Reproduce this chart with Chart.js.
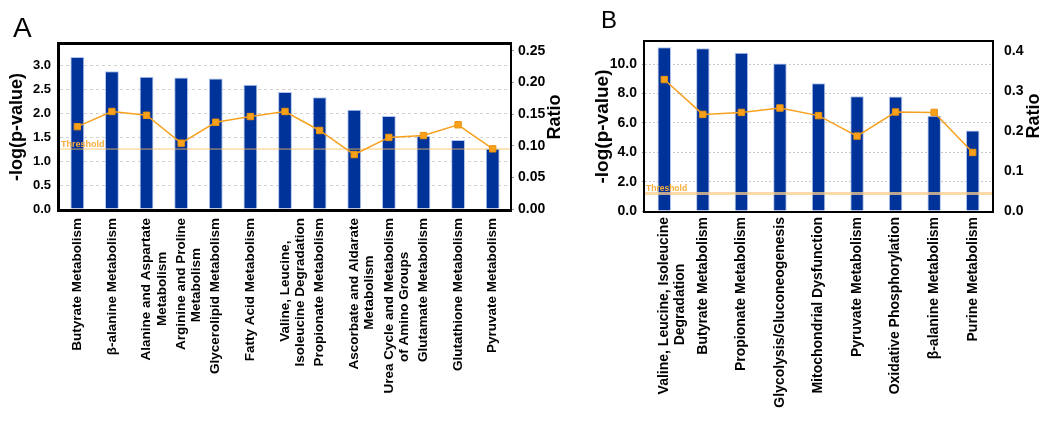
<!DOCTYPE html>
<html>
<head>
<meta charset="utf-8">
<script src="https://cdn.jsdelivr.net/npm/chart.js@4.4.1/dist/chart.umd.min.js"></script>
<style>
  html, body { margin: 0; padding: 0; background: #fff; }
  body { width: 1050px; height: 423px; position: relative; overflow: hidden; }
  canvas { position: absolute; top: 0; }
  #chartA { left: 0; }
  #chartB { left: 580px; }
</style>
</head>
<body>
<canvas id="chartA" width="575" height="423"></canvas>
<canvas id="chartB" width="470" height="423"></canvas>
<script>
// ---- panel A data ----
const pathwaysA = [
  "Butyrate Metabolism",
  "β-alanine Metabolism",
  ["Alanine and Aspartate", "Metabolism"],
  ["Arginine and Proline", "Metabolism"],
  "Glycerolipid Metabolism",
  "Fatty Acid Metabolism",
  ["Valine, Leucine,", "Isoleucine Degradation"],
  "Propionate Metabolism",
  ["Ascorbate and Aldarate", "Metabolism"],
  ["Urea Cycle and Metabolism", "of Amino Groups"],
  "Glutamate Metabolism",
  "Glutathione Metabolism",
  "Pyruvate Metabolism"
];
const logPA = [3.17, 2.87, 2.76, 2.74, 2.72, 2.59, 2.44, 2.33, 2.07, 1.94, 1.52, 1.44, 1.26];
const ratioA = [0.130, 0.154, 0.148, 0.104, 0.137, 0.146, 0.154, 0.124, 0.086, 0.113, 0.116, 0.133, 0.095];
const thresholdA = 1.25;

// ---- panel B data ----
const pathwaysB = [
  ["Valine, Leucine, Isoleucine", "Degradation"],
  "Butyrate Metabolism",
  "Propionate Metabolism",
  "Glycolysis/Gluconeogenesis",
  "Mitochondrial Dysfunction",
  "Pyruvate Metabolism",
  "Oxidative Phosphorylation",
  "β-alanine Metabolism",
  "Purine Metabolism"
];
const logPB = [11.17, 11.1, 10.78, 10.05, 8.7, 7.82, 7.8, 6.49, 5.49];
const ratioB = [0.328, 0.241, 0.246, 0.257, 0.238, 0.187, 0.247, 0.246, 0.146];
const thresholdB = 1.2;

const FAMILY = "'Liberation Sans', Arial, sans-serif";
const BAR_BLUE = "#003399";
const ORANGE = "#f7a11e";

// pad the shorter line of a 2-line label so it sits centred under the longer one
const measureCtx = document.createElement("canvas").getContext("2d");
function centerLines(label, size) {
  if (!Array.isArray(label)) return label;
  measureCtx.font = "bold " + size + "px " + FAMILY;
  const widths = label.map(s => measureCtx.measureText(s).width);
  const maxW = Math.max(...widths);
  const spaceW = measureCtx.measureText(" ").width;
  return label.map((s, i) => s + " ".repeat(Math.round((maxW - widths[i]) / 2 / spaceW)));
}

// black frame around the plot + threshold line + extra texts
const decorPlugin = {
  id: "decor",
  beforeDatasetDraw(chart, args, opts) {
    if (args.index !== 1) return; // draw threshold just before the ratio line
    const { ctx, chartArea: a } = chart;
    const y = chart.scales.y.getPixelForValue(opts.threshold);
    ctx.save();
    ctx.strokeStyle = opts.thrColor;
    ctx.lineWidth = opts.thrWidth;
    ctx.beginPath();
    ctx.moveTo(a.left, y);
    ctx.lineTo(a.right, y);
    ctx.stroke();
    ctx.fillStyle = "#f9ae3a";
    ctx.font = "bold " + opts.thrFont + "px " + FAMILY;
    ctx.textAlign = "left";
    ctx.textBaseline = "alphabetic";
    ctx.fillText("Threshold", a.left + 1, y - 2);
    ctx.restore();
  },
  afterDraw(chart, args, opts) {
    const { ctx, chartArea: a } = chart;
    const b = opts.border;
    ctx.save();
    ctx.fillStyle = "#000";
    ctx.fillRect(a.left - b.left, a.top - b.top, a.width + b.left + b.right, b.top);
    ctx.fillRect(a.left - b.left, a.bottom, a.width + b.left + b.right, b.bottom);
    ctx.fillRect(a.left - b.left, a.top - b.top, b.left, a.height + b.top + b.bottom);
    ctx.fillRect(a.right, a.top - b.top, b.right, a.height + b.top + b.bottom);

    // panel letter
    ctx.font = opts.letterFont;
    ctx.textAlign = "left";
    ctx.textBaseline = "alphabetic";
    ctx.fillText(opts.letter, opts.letterX, opts.letterY);

    // right axis title, reading bottom to top
    ctx.translate(opts.ratioX, opts.ratioY);
    ctx.rotate(-Math.PI / 2);
    ctx.font = "bold 18px " + FAMILY;
    ctx.textAlign = "center";
    ctx.textBaseline = "middle";
    ctx.fillText("Ratio", 0, 0);
    ctx.restore();
  }
};

function makeChart(id, p) {
  return new Chart(document.getElementById(id), {
    data: {
      labels: p.labels,
      datasets: [
        {
          type: "bar",
          order: 1,
          data: p.logP,
          yAxisID: "y",
          backgroundColor: BAR_BLUE,
          borderColor: "#b3c4ee",
          borderWidth: 1,
          borderSkipped: "bottom",
          categoryPercentage: 1,
          barPercentage: p.barPct
        },
        {
          type: "line",
          order: 0,
          data: p.ratio,
          yAxisID: "y1",
          borderColor: ORANGE,
          borderWidth: 1.5,
          pointStyle: "rect",
          pointRadius: 4.5,
          pointBackgroundColor: "#f9a11b",
          pointBorderColor: "#e8920f",
          pointBorderWidth: 1,
          tension: 0
        }
      ]
    },
    options: {
      responsive: false,
      animation: false,
      devicePixelRatio: 1,
      layout: { padding: { top: p.top, bottom: 0, left: 0, right: 0 } },
      plugins: {
        legend: { display: false },
        tooltip: { enabled: false },
        decor: p.decor
      },
      scales: {
        x: {
          grid: { display: false, drawTicks: false },
          border: { display: false },
          ticks: {
            autoSkip: false,
            minRotation: 90,
            maxRotation: 90,
            padding: p.xPad,
            color: "#000",
            font: { family: FAMILY, size: p.xFont, weight: "bold", lineHeight: 1.15 },
            callback(v) { return centerLines(this.getLabelForValue(v), p.xFont); }
          },
          afterFit(s) { s.height = p.xHeight; }
        },
        y: {
          position: "left",
          min: 0,
          max: p.yMax,
          grid: {
            color: p.gridColor,
            drawTicks: p.yTickLen > 0,
            tickLength: p.yTickLen,
            tickColor: "#999"
          },
          border: { display: false, dash: p.gridDash },
          ticks: {
            stepSize: p.yStep,
            includeBounds: false,
            padding: p.yPad,
            color: "#000",
            font: { family: FAMILY, size: p.yFont, weight: "bold" },
            callback: p.yLabel
          },
          title: {
            display: true,
            text: "-log(p-value)",
            color: "#000",
            font: { family: FAMILY, size: p.titleSize, weight: "bold" },
            padding: { top: p.titlePad, bottom: 0 }
          },
          afterFit(s) { s.width = p.leftW; }
        },
        y1: {
          position: "right",
          min: 0,
          max: p.y1Max,
          grid: {
            drawOnChartArea: false,
            drawTicks: p.y1TickLen > 0,
            tickLength: p.y1TickLen,
            tickColor: "#999"
          },
          border: { display: false },
          ticks: {
            stepSize: p.y1Step,
            includeBounds: false,
            padding: p.y1Pad,
            color: "#000",
            font: { family: FAMILY, size: 14, weight: "bold" },
            callback: p.y1Label
          },
          afterFit(s) { s.width = p.rightW; }
        }
      }
    },
    plugins: [decorPlugin]
  });
}

makeChart("chartA", {
  labels: pathwaysA,
  logP: logPA,
  ratio: ratioA,
  barPct: 0.4,
  top: 45,
  xHeight: 214,
  xPad: 9,
  xFont: 13.5,
  yMax: 3.42,
  yStep: 0.5,
  yPad: 9,
  yFont: 13,
  yTickLen: 0,
  yLabel: v => v.toFixed(1),
  gridColor: "#d2d2d2",
  gridDash: [3, 3],
  titleSize: 18,
  titlePad: 6,
  leftW: 60,
  y1Max: 0.259,
  y1Step: 0.025,
  y1Pad: 4,
  y1TickLen: 4,
  y1Label: v => (Math.round(v * 1000) % 50 === 0 ? v.toFixed(2) : ""),
  rightW: 65,
  decor: {
    threshold: thresholdA,
    thrColor: "rgba(255, 190, 90, 0.8)",
    thrWidth: 1,
    thrFont: 9,
    border: { top: 3, bottom: 3, left: 3, right: 2 },
    letter: "A",
    letterFont: "28px " + FAMILY,
    letterX: 13,
    letterY: 37,
    ratioX: 555,
    ratioY: 117
  }
});

makeChart("chartB", {
  labels: pathwaysB,
  logP: logPB,
  ratio: ratioB,
  barPct: 0.35,
  top: 42,
  xHeight: 212,
  xPad: 6,
  xFont: 14,
  yMax: 11.52,
  yStep: 1,
  yPad: 5,
  yFont: 14,
  yTickLen: 3,
  yLabel: v => (Math.round(v) % 2 === 0 ? v.toFixed(1) : ""),
  gridColor: "#c8c8c8",
  gridDash: [2, 2],
  titleSize: 19,
  titlePad: 11.6,
  leftW: 65,
  y1Max: 0.4217,
  y1Step: 0.1,
  y1Pad: 12,
  y1TickLen: 0,
  y1Label: v => v.toFixed(1),
  rightW: 58,
  decor: {
    threshold: thresholdB,
    thrColor: "rgba(250, 205, 140, 0.75)",
    thrWidth: 3,
    thrFont: 8.5,
    border: { top: 2, bottom: 2, left: 2, right: 2 },
    letter: "B",
    letterFont: "24px " + FAMILY,
    letterX: 21,
    letterY: 28,
    ratioX: 454,
    ratioY: 116
  }
});
</script>
</body>
</html>
